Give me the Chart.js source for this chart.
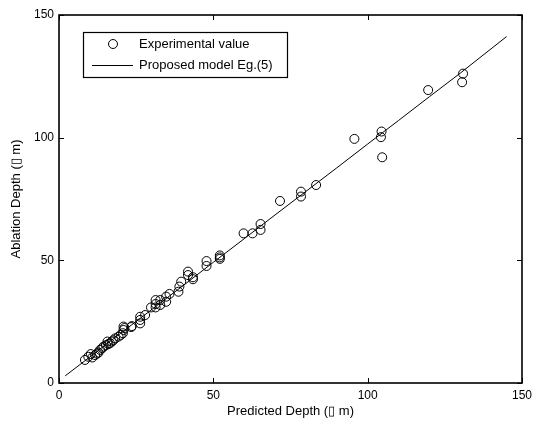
<!DOCTYPE html>
<html lang="en">
<head>
    <meta charset="UTF-8">
    <title>Ablation Depth vs Predicted Depth</title>
    <script src="https://cdn.jsdelivr.net/npm/chart.js"></script>
    <style>
        body {
            margin: 0;
            background-color: #fff;
        }
        canvas {
            display: block;
        }
    </style>
</head>
<body>
    <canvas id="depthChart" width="537" height="424"></canvas>

    <script>
        // experimental points: predicted depth (x) and measured ablation depth (y)
        const predicted = [
            8.4, 9.5, 10.3, 10.8, 11.7, 12.3, 12.8, 13.3, 14.0, 14.4,
            15.2, 15.7, 16.0, 16.5, 17.1, 17.6, 18.2, 19.3, 20.0, 20.7,
            20.9, 20.9, 21.2, 23.4, 23.6, 26.3, 26.3, 26.3, 27.9, 29.8,
            31.3, 31.3, 31.3, 32.8, 32.8, 34.7, 34.7, 35.8, 38.7, 39.0,
            39.6, 41.8, 41.8, 43.4, 43.4, 47.8, 47.8, 52.1, 52.1, 52.1,
            59.8, 62.7, 65.3, 65.3, 71.6, 78.4, 78.4, 83.3, 95.7, 104.5,
            104.3, 104.7, 119.6, 130.9, 130.6
        ];
        const ablation = [
            9.4, 10.7, 11.8, 10.4, 11.4, 12.0, 12.4, 13.5, 14.2, 14.8,
            15.4, 16.9, 15.9, 16.2, 16.9, 17.4, 18.2, 18.9, 19.6, 20.3,
            21.6, 23.0, 22.4, 22.8, 23.2, 24.3, 25.7, 27.0, 27.7, 30.8,
            30.8, 32.2, 33.8, 33.8, 31.8, 33.1, 35.2, 36.3, 37.2, 39.3,
            41.3, 45.4, 44.0, 43.1, 42.3, 49.7, 47.7, 52.0, 51.2, 50.6,
            61.0, 61.0, 64.8, 62.4, 74.2, 78.0, 76.0, 80.7, 99.5, 102.5,
            100.2, 92.0, 119.4, 126.1, 122.6
        ];

        // model curve Eq.(5)
        const modelX = [2, 10, 20, 30, 40, 50, 60, 70, 80, 90, 100, 110, 120, 130, 145];
        const modelY = [2.9, 10.6, 20.3, 29.9, 39.5, 49.2, 58.8, 68.5, 78.1, 87.7, 97.4, 107.0, 116.7, 126.3, 141.2];

        const tickValues = [0, 50, 100, 150];

        const fontFamily = '"Liberation Sans", Arial, sans-serif';

        // matlab style box with inward ticks plus the legend box
        const frameAndLegend = {
            id: 'frameAndLegend',
            afterDraw(chart) {
                const ctx = chart.ctx;
                const a = chart.chartArea;
                const xs = chart.scales.x;
                const ys = chart.scales.y;
                ctx.save();
                ctx.strokeStyle = '#000';
                ctx.lineWidth = 1.6;
                ctx.strokeRect(a.left, a.top, a.right - a.left, a.bottom - a.top);
                ctx.lineWidth = 1;
                ctx.beginPath();
                tickValues.forEach(v => {
                    const px = Math.round(xs.getPixelForValue(v)) + 0.5;
                    ctx.moveTo(px, a.bottom); ctx.lineTo(px, a.bottom - 5);
                    ctx.moveTo(px, a.top); ctx.lineTo(px, a.top + 5);
                    const py = Math.round(ys.getPixelForValue(v)) + 0.5;
                    ctx.moveTo(a.left, py); ctx.lineTo(a.left + 5, py);
                    ctx.moveTo(a.right, py); ctx.lineTo(a.right - 5, py);
                });
                ctx.stroke();

                // legend
                const lx = 83, ly = 32, lw = 204, lh = 45;
                ctx.fillStyle = '#fff';
                ctx.fillRect(lx, ly, lw, lh);
                ctx.lineWidth = 1.2;
                ctx.strokeRect(lx + 0.5, ly + 0.5, lw, lh);
                ctx.lineWidth = 1;
                ctx.beginPath();
                ctx.arc(113, 44, 4.5, 0, Math.PI * 2);
                ctx.stroke();
                ctx.beginPath();
                ctx.moveTo(92, 65.5); ctx.lineTo(133, 65.5);
                ctx.stroke();
                ctx.fillStyle = '#000';
                ctx.font = '13px ' + fontFamily;
                ctx.textBaseline = 'middle';
                ctx.fillText(chart.data.datasets[0].label, 139, 44);
                ctx.fillText(chart.data.datasets[1].label, 139, 65);
                ctx.restore();
            }
        };

        const ctx = document.getElementById('depthChart').getContext('2d');
        new Chart(ctx, {
            type: 'scatter',
            data: {
                datasets: [
                    {
                        label: 'Experimental value',
                        data: predicted.map((x, i) => ({ x: x, y: ablation[i] })),
                        borderColor: '#000',
                        backgroundColor: 'rgba(0,0,0,0)',
                        borderWidth: 1,
                        pointRadius: 4.5,
                        showLine: false
                    },
                    {
                        label: 'Proposed model Eg.(5)',
                        type: 'line',
                        data: modelX.map((x, i) => ({ x: x, y: modelY[i] })),
                        borderColor: '#000',
                        borderWidth: 1,
                        pointRadius: 0,
                        fill: false,
                        tension: 0
                    }
                ]
            },
            options: {
                responsive: false,
                animation: false,
                layout: { padding: { top: 15, right: 14, left: 0, bottom: 0 } },
                plugins: {
                    legend: { display: false },
                    tooltip: { enabled: false }
                },
                scales: {
                    x: {
                        type: 'linear',
                        min: 0,
                        max: 150,
                        border: { display: false },
                        grid: { display: false, drawTicks: false },
                        afterBuildTicks: s => { s.ticks = tickValues.map(v => ({ value: v })); },
                        afterFit: s => { s.height = 41; },
                        ticks: {
                            color: '#000',
                            padding: 5,
                            maxRotation: 0,
                            font: { family: fontFamily, size: 12 }
                        },
                        title: {
                            display: true,
                            text: 'Predicted Depth (\u25AF m)',
                            color: '#000',
                            padding: { top: 0, bottom: 5 },
                            font: { family: fontFamily, size: 13 }
                        }
                    },
                    y: {
                        type: 'linear',
                        min: 0,
                        max: 150,
                        border: { display: false },
                        grid: { display: false, drawTicks: false },
                        afterBuildTicks: s => { s.ticks = tickValues.map(v => ({ value: v })); },
                        afterFit: s => { s.width = 59; },
                        ticks: {
                            color: '#000',
                            padding: 5,
                            font: { family: fontFamily, size: 12 }
                        },
                        title: {
                            display: true,
                            text: 'Ablation Depth (\u25AF m)',
                            color: '#000',
                            padding: { top: 9, bottom: 0 },
                            font: { family: fontFamily, size: 13 }
                        }
                    }
                }
            },
            plugins: [frameAndLegend]
        });
    </script>
</body>
</html>
